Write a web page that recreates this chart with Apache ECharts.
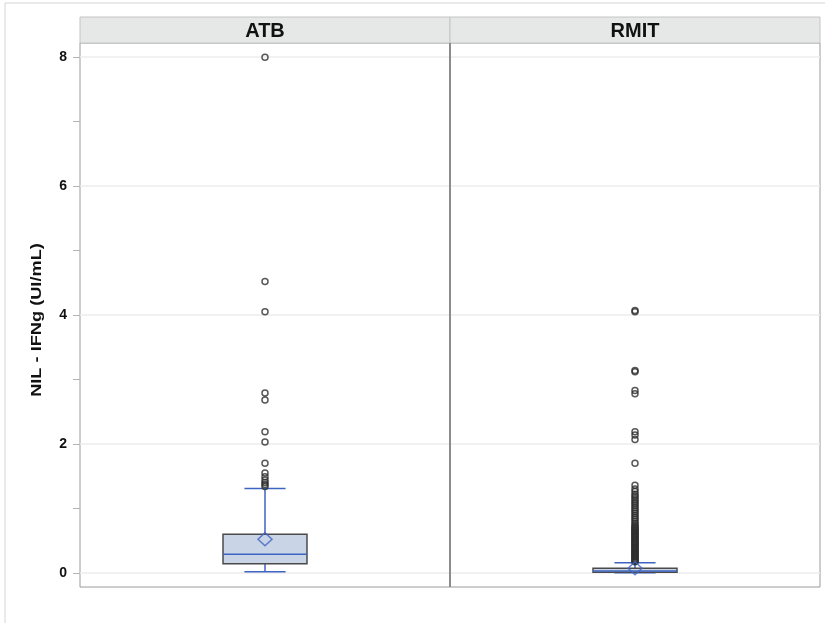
<!DOCTYPE html>
<html>
<head>
<meta charset="utf-8">
<script src="https://cdn.jsdelivr.net/npm/echarts@6/dist/echarts.min.js"></script>
<style>
  html, body { margin: 0; padding: 0; background: #fff; }
  #chart { width: 825px; height: 625px; }
</style>
</head>
<body>
<div id="chart"></div>
<script>
// panels
var groups = ["ATB", "RMIT"];
var yTitle = "NIL - IFNg (UI/mL)";

// box stats: [min, q1, median, q3, max]
var atbBox = [0.015, 0.14, 0.29, 0.6, 1.31];
var rmitBox = [0.0, 0.01, 0.03, 0.07, 0.155];
var atbMean = 0.52;
var rmitMean = 0.07;

var atbOutliers = [8.0, 4.52, 4.05, 2.79, 2.68, 2.19, 2.03, 1.7, 1.55, 1.49, 1.44, 1.4, 1.37, 1.34];
var rmitOutliers = [
  4.07, 4.05, 3.14, 3.12, 2.83, 2.78, 2.19, 2.14, 2.07, 1.7, 1.36,
  1.3, 1.26, 1.22, 1.19, 1.16, 1.13, 1.1, 1.07, 1.04, 1.01, 0.98, 0.95,
  0.92, 0.89, 0.86, 0.83, 0.8, 0.77, 0.74,
  0.72, 0.7, 0.69, 0.67, 0.66, 0.64, 0.63, 0.61, 0.6, 0.58, 0.57, 0.55,
  0.54, 0.52, 0.51, 0.49, 0.48, 0.46, 0.45, 0.43, 0.42, 0.4, 0.39, 0.37,
  0.36, 0.34, 0.33, 0.31, 0.3, 0.28, 0.27, 0.25, 0.24, 0.22, 0.21, 0.19,
  0.18, 0.17
];

var yLabels = [0, 2, 4, 6, 8];
var yTicks = [0, 1, 2, 3, 4, 5, 6, 7, 8];

var BLUE = "#3e64c2";
var yMin = -0.22, yMax = 8.22;

var chart = echarts.init(document.getElementById("chart"), null, { renderer: "canvas" });

function boxRender(params, api) {
  var x = api.value(0);
  var lo = api.coord([x, api.value(1)]);
  var q1 = api.coord([x, api.value(2)]);
  var md = api.coord([x, api.value(3)]);
  var q3 = api.coord([x, api.value(4)]);
  var hi = api.coord([x, api.value(5)]);
  var bw = api.size([1, 0])[0] * 0.227;
  var cw = bw * 0.49;
  var cx = lo[0];
  var blue = { stroke: BLUE, lineWidth: 1.5 };
  return {
    type: "group",
    children: [
      { type: "line", shape: { x1: cx, y1: q3[1], x2: cx, y2: hi[1] }, style: blue },
      { type: "line", shape: { x1: cx, y1: q1[1], x2: cx, y2: lo[1] }, style: blue },
      { type: "line", shape: { x1: cx - cw / 2, y1: hi[1], x2: cx + cw / 2, y2: hi[1] }, style: blue },
      { type: "line", shape: { x1: cx - cw / 2, y1: lo[1], x2: cx + cw / 2, y2: lo[1] }, style: blue },
      {
        type: "rect",
        shape: { x: cx - bw / 2, y: q3[1], width: bw, height: q1[1] - q3[1] },
        style: { fill: "#c9d4e6", stroke: "#4a4a4a", lineWidth: 1.5 }
      },
      { type: "line", shape: { x1: cx - bw / 2, y1: md[1], x2: cx + bw / 2, y2: md[1] }, style: blue }
    ]
  };
}

function yAxisData(gi) {
  return {
    type: "value",
    gridIndex: gi,
    position: "left",
    min: yMin,
    max: yMax,
    axisLine: { show: false },
    axisLabel: { show: false },
    axisTick: { show: false, customValues: yLabels },
    splitLine: { show: true, lineStyle: { color: "#ececec", width: 1.5 } }
  };
}

var outlierStyle = {
  color: "rgba(0,0,0,0)",
  borderColor: "#2e2e2e",
  borderWidth: 1.5
};

chart.setOption({
  animation: false,
  grid: [
    { left: 80, top: 43, width: 370, bottom: 38, show: true, borderColor: "#9a9a9a", borderWidth: 1, backgroundColor: "#fff" },
    { left: 450, top: 43, width: 370, bottom: 38, show: true, borderColor: "#9a9a9a", borderWidth: 1, backgroundColor: "#fff" }
  ],
  xAxis: [
    { type: "category", gridIndex: 0, data: [groups[0]], show: false },
    { type: "category", gridIndex: 1, data: [groups[1]], show: false }
  ],
  yAxis: [
    yAxisData(0),
    yAxisData(1),
    {
      type: "value",
      gridIndex: 0,
      position: "left",
      offset: 0,
      min: yMin,
      max: yMax,
      axisLine: { show: false },
      axisTick: { show: true, length: 7, customValues: yTicks, lineStyle: { color: "#b5b5b5" } },
      axisLabel: { customValues: yLabels, margin: 13, fontFamily: "Liberation Sans", fontWeight: "bold", fontSize: 14, color: "#111" },
      splitLine: { show: false }
    }
  ],
  graphic: [
    { type: "line", shape: { x1: 5, y1: 3, x2: 825, y2: 3 }, style: { stroke: "#d4d4d4", lineWidth: 1 } },
    { type: "line", shape: { x1: 5, y1: 3, x2: 5, y2: 623 }, style: { stroke: "#d4d4d4", lineWidth: 1 } },
    { type: "rect", shape: { x: 80, y: 17, width: 370, height: 26 }, style: { fill: "#e6e7e7", stroke: "#c4c4c4", lineWidth: 1 } },
    { type: "rect", shape: { x: 450, y: 17, width: 370, height: 26 }, style: { fill: "#e6e7e7", stroke: "#c4c4c4", lineWidth: 1 } },
    { type: "line", z: 100, shape: { x1: 450, y1: 43, x2: 450, y2: 587 }, style: { stroke: "#8c8c8c", lineWidth: 2 } },
    {
      type: "text", x: 265, y: 31,
      style: { text: groups[0], fill: "#111", font: "bold 20px 'Liberation Sans'", align: "center", verticalAlign: "middle" }
    },
    {
      type: "text", x: 635, y: 31,
      style: { text: groups[1], fill: "#111", font: "bold 20px 'Liberation Sans'", align: "center", verticalAlign: "middle" }
    },
    {
      type: "text", x: 37, y: 320, rotation: Math.PI / 2, scaleX: 1.3,
      style: { text: yTitle, fill: "#111", font: "bold 14px 'Liberation Sans'", align: "center", verticalAlign: "middle" }
    }
  ],
  series: [
    {
      type: "custom",
      xAxisIndex: 0,
      yAxisIndex: 0,
      renderItem: boxRender,
      data: [[0].concat(atbBox)],
      z: 2
    },
    {
      type: "custom",
      xAxisIndex: 1,
      yAxisIndex: 1,
      renderItem: boxRender,
      data: [[0].concat(rmitBox)],
      z: 2
    },
    {
      type: "scatter",
      xAxisIndex: 0,
      yAxisIndex: 0,
      symbol: "circle",
      symbolSize: 6,
      itemStyle: outlierStyle,
      data: atbOutliers.map(function (v) { return [0, v]; }),
      z: 3
    },
    {
      type: "scatter",
      xAxisIndex: 1,
      yAxisIndex: 1,
      symbol: "circle",
      symbolSize: 6,
      itemStyle: outlierStyle,
      data: rmitOutliers.map(function (v) { return [0, v]; }),
      z: 3
    },
    {
      type: "scatter",
      xAxisIndex: 0,
      yAxisIndex: 0,
      symbol: "diamond",
      symbolSize: [14, 13],
      itemStyle: { color: "rgba(0,0,0,0)", borderColor: BLUE, borderWidth: 1.5 },
      data: [[0, atbMean]],
      z: 4
    },
    {
      type: "scatter",
      xAxisIndex: 1,
      yAxisIndex: 1,
      symbol: "diamond",
      symbolSize: [14, 13],
      itemStyle: { color: "rgba(0,0,0,0)", borderColor: BLUE, borderWidth: 1.5 },
      data: [[0, rmitMean]],
      z: 4
    }
  ]
});
</script>
</body>
</html>
